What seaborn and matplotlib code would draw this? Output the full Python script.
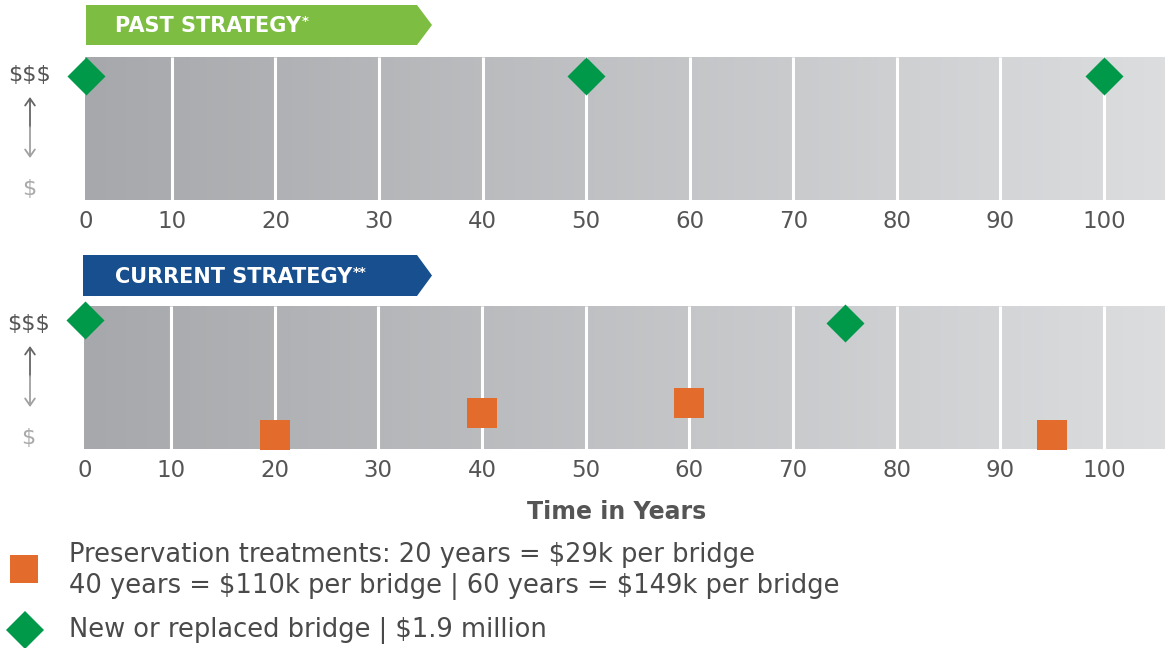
import numpy as np
import pandas as pd
import matplotlib
matplotlib.use("Agg")
import matplotlib.pyplot as plt
import seaborn as sns
from matplotlib.patches import Polygon, FancyArrowPatch
from matplotlib.lines import Line2D

# ---------------- data ----------------
year_ticks = [0, 10, 20, 30, 40, 50, 60, 70, 80, 90, 100]
grid_years = [10, 20, 30, 40, 50, 60, 70, 80, 90, 100]

past_bridge_years = [0, 50, 100]
past_bridge_level = [0.865, 0.865, 0.865]

current_bridge_years = [0, 75]
current_bridge_level = [0.90, 0.88]

current_pres_years = [20, 40, 60, 95]
current_pres_level = [0.10, 0.25, 0.325, 0.10]

cost_labels = ["\\$\\$\\$", "\\$"]
cost_label_levels = [0.89, 0.09]

banner_titles = ["PAST STRATEGY", "CURRENT STRATEGY"]
banner_marks = ["*", "**"]
x_title = "Time in Years"
legend_lines = [
    "Preservation treatments: 20 years = \\$29k per bridge",
    "40 years = \\$110k per bridge | 60 years = \\$149k per bridge",
    "New or replaced bridge | \\$1.9 million",
]

GREEN = "#00994a"
ORANGE = "#e36b2b"
BANNER_GREEN = "#7dbd42"
BANNER_BLUE = "#184f8f"
TXT = "#555555"

sns.set_theme(style="white")
plt.rcParams["font.family"] = ["DejaVu Sans"]

W, H = 1165, 648
fig = plt.figure(figsize=(W / 100, H / 100), dpi=100)


def px(x, y):
    return x / W, 1 - y / H


def fwd(x):
    x = np.asarray(x, dtype=float)
    return np.where(x < 10, x * 0.86, 8.6 + (x - 10) * 1.0356)


def inv(y):
    y = np.asarray(y, dtype=float)
    return np.where(y < 8.6, y / 0.86, 10 + (y - 8.6) / 1.0356)


grad = np.linspace(0, 1, 256)[None, :]
cmap = matplotlib.colors.LinearSegmentedColormap.from_list("g", ["#a7a8ab", "#dcdddf"])


def panel(top_px, left_px):
    l, t = px(left_px, top_px)
    ax = fig.add_axes([l, t - 143 / H, (W - left_px) / W, 143 / H])
    ax.set_xscale("function", functions=(fwd, inv))
    ax.imshow(grad, cmap=cmap, extent=[0, 1, 0, 1], transform=ax.transAxes,
              aspect="auto", zorder=0)
    ax.vlines(grid_years, 0, 1, colors="white", linewidth=2.2, zorder=1)
    ax.set_xlim(-0.1, 105.9)
    ax.set_ylim(0, 1)
    ax.set_xticks(year_ticks)
    ax.set_xticklabels([str(v) for v in year_ticks])
    ax.tick_params(axis="x", length=0, pad=7.5, labelsize=16.5, labelcolor=TXT)
    ax.set_yticks(cost_label_levels)
    ax.set_yticklabels(cost_labels)
    ax.tick_params(axis="y", length=0, pad=40, labelsize=16)
    labs = ax.get_yticklabels()
    labs[0].set_color("#555555")
    labs[1].set_color("#aaaaaa")
    for lb in labs:
        lb.set_ha("center")
    for s in ax.spines.values():
        s.set_visible(False)
    ax.set_facecolor("none")
    return ax


ax1 = panel(57, 85)
ax2 = panel(306, 84)

# markers
df_past = pd.DataFrame({"year": past_bridge_years, "level": past_bridge_level})
df_cb = pd.DataFrame({"year": current_bridge_years, "level": current_bridge_level})
df_cp = pd.DataFrame({"year": current_pres_years, "level": current_pres_level})

sns.scatterplot(data=df_past, x="year", y="level", ax=ax1, marker="D", s=375,
                color=GREEN, linewidth=0, clip_on=False, zorder=5, legend=False)
sns.scatterplot(data=df_cb, x="year", y="level", ax=ax2, marker="D", s=375,
                color=GREEN, linewidth=0, clip_on=False, zorder=5, legend=False)
sns.scatterplot(data=df_cp, x="year", y="level", ax=ax2, marker="s", s=436,
                color=ORANGE, linewidth=0, clip_on=False, zorder=5, legend=False)

for ax in (ax1, ax2):
    ax.set_xlabel("")
    ax.set_ylabel("")

ax2.set_xlabel(x_title, fontsize=17, fontweight="bold", color=TXT)
ax2.xaxis.set_label_coords((617 - 84) / (W - 84), -0.36)

# up/down arrows
for top in (57, 306):
    x = 30
    ymid = top + 70
    fig.add_artist(FancyArrowPatch(
        px(x, ymid), px(x, top + 40), transform=fig.transFigure,
        arrowstyle="->,head_length=5,head_width=3.5", color="#666666", lw=1.3,
        shrinkA=0, shrinkB=0))
    fig.add_artist(FancyArrowPatch(
        px(x, ymid), px(x, top + 101), transform=fig.transFigure,
        arrowstyle="->,head_length=5,head_width=3.5", color="#a0a0a0", lw=1.3,
        shrinkA=0, shrinkB=0))

# banners
renderer = fig.canvas.get_renderer()
for (y0, y1, xl, col, title, mark) in [
    (5, 45, 86, BANNER_GREEN, banner_titles[0], banner_marks[0]),
    (255, 296, 83, BANNER_BLUE, banner_titles[1], banner_marks[1]),
]:
    ym = (y0 + y1) / 2
    pts = [px(xl, y0), px(417, y0), px(432, ym), px(417, y1), px(xl, y1)]
    fig.add_artist(Polygon(pts, closed=True, transform=fig.transFigure,
                           facecolor=col, edgecolor="none", zorder=1))
    t = fig.text(*px(115, ym + 1), title, color="white", fontsize=15,
                 fontweight="bold", ha="left", va="center", zorder=3)
    bb = t.get_window_extent(renderer)
    fig.text((bb.x1 + 1) / W, (bb.y1 - 6) / H, mark, color="white", fontsize=9.5,
             fontweight="bold", ha="left", va="center", zorder=3)

# legend
fig.add_artist(Line2D([px(24, 0)[0]], [px(0, 569)[1]], marker="s", markersize=20.5,
                      color=ORANGE, markeredgewidth=0, linestyle="none",
                      transform=fig.transFigure))
fig.add_artist(Line2D([px(25, 0)[0]], [px(0, 630)[1]], marker="D", markersize=19.3,
                      color=GREEN, markeredgewidth=0, linestyle="none",
                      transform=fig.transFigure))
for txt, y in zip(legend_lines, [555, 587, 631]):
    fig.text(*px(69, y), txt, fontsize=18.5, color="#4a4a4a", ha="left", va="center")

fig.savefig("out.png", dpi=100)
